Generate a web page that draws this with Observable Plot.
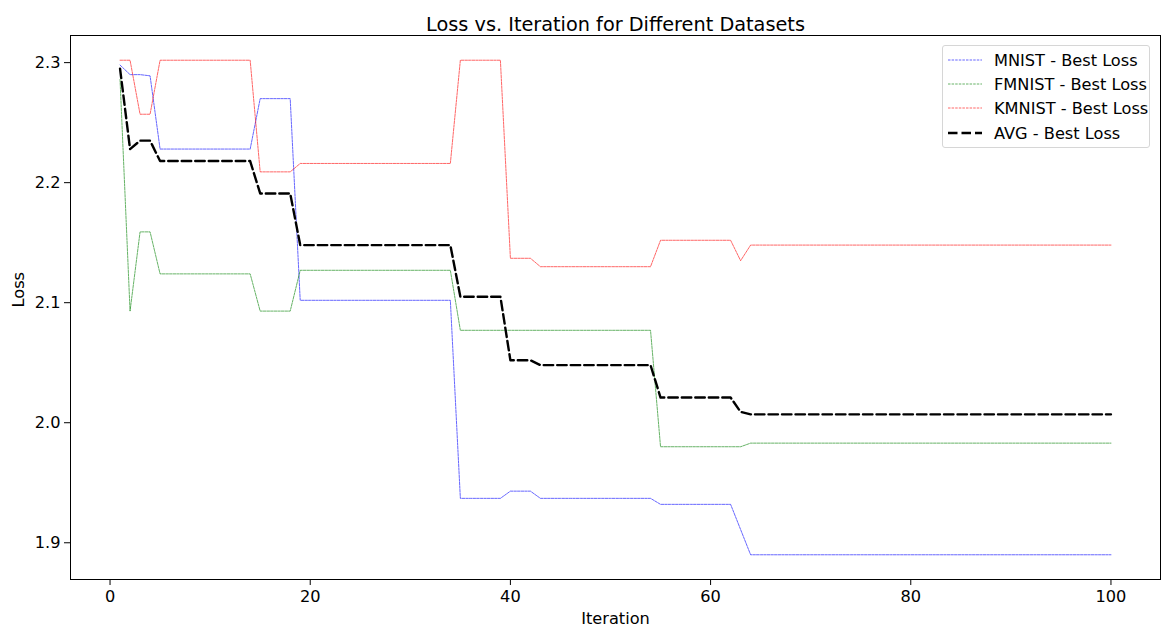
<!DOCTYPE html>
<html><head><meta charset="utf-8">
<script src="https://cdn.jsdelivr.net/npm/d3@7"></script>
<script src="https://cdn.jsdelivr.net/npm/@observablehq/plot@0.6"></script>
<style>
body{margin:0;background:#fff;}
#wrap{position:relative;width:1164px;height:633px;font-family:"DejaVu Sans",sans-serif;}
#legend{position:absolute;left:942px;top:45px;width:208px;height:103px;border:1px solid #d6d6d6;border-radius:3px;background:rgba(255,255,255,0.8);box-sizing:border-box;font-family:"DejaVu Sans",sans-serif;font-size:16.2px;color:#000;}
#legend .row{position:absolute;left:0;height:20px;display:flex;align-items:center;white-space:nowrap;}
#legend svg{display:block;margin-left:5px;margin-right:12px;}
</style></head><body>
<div id="wrap"><div id="legend"></div></div>
<script>
const iterations = [1,2,3,4,5,6,7,8,9,10,11,12,13,14,15,16,17,18,19,20,
21,22,23,24,25,26,27,28,29,30,31,32,33,34,35,36,37,38,39,40,
41,42,43,44,45,46,47,48,49,50,51,52,53,54,55,56,57,58,59,60,
61,62,63,64,65,66,67,68,69,70,71,72,73,74,75,76,77,78,79,80,
81,82,83,84,85,86,87,88,89,90,91,92,93,94,95,96,97,98,99,100];

const mnist = [2.298,2.290,2.290,2.289,
2.228,2.228,2.228,2.228,2.228,2.228,2.228,2.228,2.228,2.228,
2.270,2.270,2.270,2.270,
2.102,2.102,2.102,2.102,2.102,2.102,2.102,2.102,2.102,2.102,2.102,2.102,2.102,2.102,2.102,2.102,
1.937,1.937,1.937,1.937,1.937,
1.943,1.943,1.943,
1.937,1.937,1.937,1.937,1.937,1.937,1.937,1.937,1.937,1.937,1.937,1.937,
1.932,1.932,1.932,1.932,1.932,1.932,1.932,1.932,
1.911,
1.890,1.890,1.890,1.890,1.890,1.890,1.890,1.890,1.890,1.890,1.890,1.890,1.890,1.890,1.890,1.890,1.890,1.890,1.890,
1.890,1.890,1.890,1.890,1.890,1.890,1.890,1.890,1.890,1.890,1.890,1.890,1.890,1.890,1.890,1.890,1.890,1.890];

const fmnist = [2.286,2.093,2.159,2.159,
2.124,2.124,2.124,2.124,2.124,2.124,2.124,2.124,2.124,2.124,
2.093,2.093,2.093,2.093,
2.127,2.127,2.127,2.127,2.127,2.127,2.127,2.127,2.127,2.127,2.127,2.127,2.127,2.127,2.127,2.127,
2.077,2.077,2.077,2.077,2.077,2.077,2.077,2.077,2.077,2.077,2.077,2.077,2.077,2.077,2.077,2.077,2.077,2.077,2.077,2.077,
1.980,1.980,1.980,1.980,1.980,1.980,1.980,1.980,1.980,
1.983,1.983,1.983,1.983,1.983,1.983,1.983,1.983,1.983,1.983,1.983,1.983,1.983,1.983,1.983,1.983,1.983,1.983,1.983,
1.983,1.983,1.983,1.983,1.983,1.983,1.983,1.983,1.983,1.983,1.983,1.983,1.983,1.983,1.983,1.983,1.983,1.983];

const kmnist = [2.302,2.302,2.257,2.257,
2.302,2.302,2.302,2.302,2.302,2.302,2.302,2.302,2.302,2.302,
2.209,2.209,2.209,2.209,
2.216,2.216,2.216,2.216,2.216,2.216,2.216,2.216,2.216,2.216,2.216,2.216,2.216,2.216,2.216,2.216,
2.302,2.302,2.302,2.302,2.302,
2.137,2.137,2.137,
2.130,2.130,2.130,2.130,2.130,2.130,2.130,2.130,2.130,2.130,2.130,2.130,
2.152,2.152,2.152,2.152,2.152,2.152,2.152,2.152,
2.135,
2.148,2.148,2.148,2.148,2.148,2.148,2.148,2.148,2.148,2.148,2.148,2.148,2.148,2.148,2.148,2.148,2.148,2.148,2.148,
2.148,2.148,2.148,2.148,2.148,2.148,2.148,2.148,2.148,2.148,2.148,2.148,2.148,2.148,2.148,2.148,2.148,2.148];

const avg = [2.295,2.228,2.235,2.235,
2.218,2.218,2.218,2.218,2.218,2.218,2.218,2.218,2.218,2.218,
2.191,2.191,2.191,2.191,
2.148,2.148,2.148,2.148,2.148,2.148,2.148,2.148,2.148,2.148,2.148,2.148,2.148,2.148,2.148,2.148,
2.105,2.105,2.105,2.105,2.105,
2.052,2.052,2.052,
2.048,2.048,2.048,2.048,2.048,2.048,2.048,2.048,2.048,2.048,2.048,2.048,
2.021,2.021,2.021,2.021,2.021,2.021,2.021,2.021,
2.009,
2.007,2.007,2.007,2.007,2.007,2.007,2.007,2.007,2.007,2.007,2.007,2.007,2.007,2.007,2.007,2.007,2.007,2.007,2.007,
2.007,2.007,2.007,2.007,2.007,2.007,2.007,2.007,2.007,2.007,2.007,2.007,2.007,2.007,2.007,2.007,2.007,2.007];

const seriesNames = ["MNIST - Best Loss","FMNIST - Best Loss","KMNIST - Best Loss","AVG - Best Loss"];
const seriesColors = ["#0000ff","#008000","#ff0000","#000000"];
const xTicks = [0,20,40,60,80,100];
const yTicks = [1.9,2.0,2.1,2.2,2.3];
const titleText = "Loss vs. Iteration for Different Datasets";
const xLabel = "Iteration";
const yLabel = "Loss";

const toRows = (vals) => iterations.map((it, i) => ({iter: it, loss: vals[i]}));
const allVals = [...mnist, ...fmnist, ...kmnist, ...avg];
const yMin = d3.min(allVals), yMax = d3.max(allVals);
const yPad = (yMax - yMin) * 0.05;
const xMin = d3.min(iterations), xMax = d3.max(iterations);
const xPad = (xMax - xMin) * 0.05;

const thin = {x: "iter", y: "loss", strokeWidth: 0.75, strokeDasharray: "2.5,1.1", strokeOpacity: 0.8};

const chart = Plot.plot({
  width: 1164, height: 633,
  marginLeft: 70, marginRight: 4, marginTop: 35, marginBottom: 54,
  style: {fontFamily: "DejaVu Sans", fontSize: "16.2px", color: "#000", background: "#fff", overflow: "visible"},
  x: {domain: [xMin - xPad, xMax + xPad], ticks: xTicks, tickFormat: d3.format("d"), label: null, tickSize: 6, tickPadding: 5},
  y: {domain: [yMin - yPad, yMax + yPad], ticks: yTicks, tickFormat: d3.format(".1f"), label: null, tickSize: 6, tickPadding: 4},
  marks: [
    Plot.line(toRows(mnist), {...thin, stroke: seriesColors[0]}),
    Plot.line(toRows(fmnist), {...thin, stroke: seriesColors[1]}),
    Plot.line(toRows(kmnist), {...thin, stroke: seriesColors[2]}),
    Plot.line(toRows(avg), {x: "iter", y: "loss", stroke: seriesColors[3], strokeWidth: 2.4, strokeDasharray: "9.5,4"}),
    Plot.frame({stroke: "#000", strokeWidth: 1}),
    Plot.text([titleText], {frameAnchor: "top", dy: -18, fontSize: 19.3, fill: "#000"}),
    Plot.text([xLabel], {frameAnchor: "bottom", dy: 44, fontSize: 16.2, fill: "#000"}),
    Plot.text([yLabel], {frameAnchor: "left", dx: -52, rotate: -90, fontSize: 16.2, fill: "#000"})
  ]
});
document.getElementById("wrap").prepend(chart);

const legend = document.getElementById("legend");
const rowTops = [4, 28, 52, 77];
seriesNames.forEach((name, i) => {
  const row = document.createElement("div");
  row.className = "row";
  row.style.top = rowTops[i] + "px";
  const isAvg = i === 3;
  row.innerHTML = `<svg width="34" height="10"><line x1="0" y1="5" x2="34" y2="5" stroke="${seriesColors[i]}" stroke-width="${isAvg ? 2.4 : 0.75}" stroke-dasharray="${isAvg ? '9.5,4' : '2.5,1.1'}" stroke-opacity="${isAvg ? 1 : 0.8}"/></svg><span>${name}</span>`;
  legend.appendChild(row);
});
</script>
</body></html>
